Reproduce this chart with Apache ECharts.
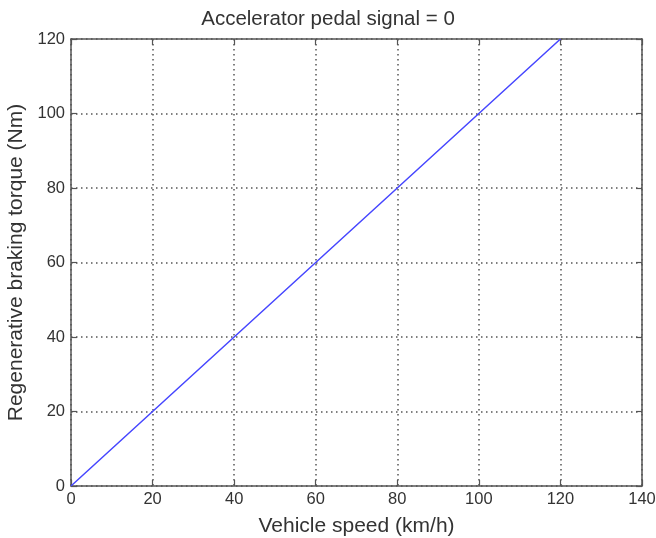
<!DOCTYPE html>
<html><head><meta charset="utf-8">
<script src="https://cdn.jsdelivr.net/npm/echarts@6/dist/echarts.min.js"></script>
<style>html,body{margin:0;padding:0;background:#fff}#c{width:656px;height:538px}</style>
</head><body><div id="c"></div>
<script>
const speeds = [0, 20, 40, 60, 80, 100, 120];
const torque = [0, 20, 40, 60, 80, 100, 120];
const titleText = 'Accelerator pedal signal = 0';
const xName = 'Vehicle speed (km/h)';
const yName = 'Regenerative braking torque (Nm)';

const chart = echarts.init(document.getElementById('c'));
const font = 'Liberation Sans, Arial, sans-serif';
const txt = '#333';
const axBase = {
  axisLine: {show: true, onZero: false, lineStyle: {color: '#555', width: 1.5}},
  axisTick: {show: true, inside: true, length: 6, lineStyle: {color: '#555', width: 1.2}},
  splitLine: {show: false}
};
const gridLine = {show: true, lineStyle: {color: '#555', type: [1.5, 3.5], width: 1.5}};
chart.setOption({
  animation: false,
  backgroundColor: '#fff',
  title: {text: titleText, left: 'center', top: 4, textStyle: {fontFamily: font, fontSize: 20.5, fontWeight: 'normal', color: txt}},
  grid: {left: 71, right: 14, top: 39, bottom: 52, show: false, containLabel: false, outerBoundsMode: 'none'},
  xAxis: [
    Object.assign({}, axBase, {type: 'value', min: 0, max: 140, interval: 20, position: 'bottom',
      name: xName, nameLocation: 'middle', nameGap: 30,
      nameTextStyle: {fontFamily: font, fontSize: 21, color: txt},
      axisLabel: {fontFamily: font, fontSize: 16.5, color: txt, margin: 5},
      splitLine: gridLine}),
    Object.assign({}, axBase, {type: 'value', min: 0, max: 140, interval: 20, position: 'top', axisLabel: {show: false}})
  ],
  yAxis: [
    Object.assign({}, axBase, {type: 'value', min: 0, max: 120, interval: 20, position: 'left',
      name: yName, nameLocation: 'middle', nameGap: 42,
      nameTextStyle: {fontFamily: font, fontSize: 21, color: txt},
      axisLabel: {fontFamily: font, fontSize: 16.5, color: txt, margin: 6},
      splitLine: gridLine}),
    Object.assign({}, axBase, {type: 'value', min: 0, max: 120, interval: 20, position: 'right', axisLabel: {show: false}})
  ],
  series: [{
    type: 'line', data: speeds.map((s, i) => [s, torque[i]]), showSymbol: false,
    lineStyle: {color: '#4646ff', width: 1.5}, xAxisIndex: 0, yAxisIndex: 0
  }]
});
</script></body></html>
